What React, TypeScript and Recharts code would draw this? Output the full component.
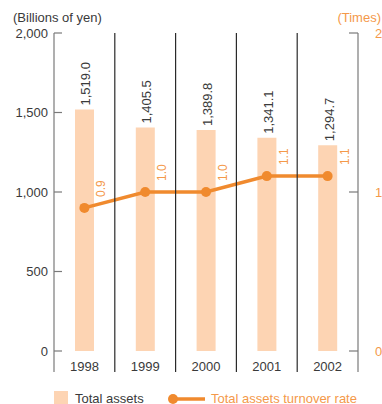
import React from 'react';
import {
  ComposedChart,
  Bar,
  Line,
  XAxis,
  YAxis,
  Legend,
  LabelList,
} from 'recharts';

// Fiscal years and the two series plotted against them
const YEARS = ['1998', '1999', '2000', '2001', '2002'];
const TOTAL_ASSETS = [1519.0, 1405.5, 1389.8, 1341.1, 1294.7]; // billions of yen
const TURNOVER_RATE = [0.9, 1.0, 1.0, 1.1, 1.1]; // times

const ASSET_TICKS = [0, 500, 1000, 1500, 2000];
const RATE_TICKS = [0, 1, 2];

const data = YEARS.map((year, i) => ({
  year,
  assets: TOTAL_ASSETS[i],
  rate: TURNOVER_RATE[i],
}));

// Layout
const W = 382;
const H = 404;
const LEFT_W = 54;
const RIGHT_W = 24;
const TOP = 33;
const X_AXIS_H = 53;
const LINE_BOTTOM = 372;
const PLOT_W = W - LEFT_W - RIGHT_W;
const HALF_BAND = PLOT_W / YEARS.length / 2;

// Colours
const BAR_FILL = '#FDD4B3';
const LINE_COLOR = '#F08A2E';
const ORANGE_TEXT = '#F4994A';
const TEXT = '#3a3a3a';
const AXIS_GRAY = '#7a7a7a';
const DIVIDER = '#2a2a2a';
const FONT = 13;

const fmtAssets = (v: number) =>
  v.toLocaleString('en-US', { minimumFractionDigits: 1, maximumFractionDigits: 1 });

const LeftTick = (props: any) => {
  const { x, y, payload } = props;
  return (
    <g>
      <line x1={x} x2={x + 8} y1={y} y2={y} stroke={AXIS_GRAY} strokeWidth={1.2} />
      <text x={x - 6} y={y + 4.5} textAnchor="end" fontSize={FONT} fill={TEXT}>
        {payload.value.toLocaleString('en-US')}
      </text>
    </g>
  );
};

const RightTick = (props: any) => {
  const { x, y, payload } = props;
  return (
    <g>
      <line x1={x - 9} x2={x} y1={y} y2={y} stroke={AXIS_GRAY} strokeWidth={1.2} />
      <text x={x + 17} y={y + 4.5} textAnchor="start" fontSize={FONT} fill={ORANGE_TEXT}>
        {payload.value}
      </text>
    </g>
  );
};

// Year label plus the vertical rules that frame each year's column
const YearTick = (props: any) => {
  const { x, y, payload, index } = props;
  const last = index === YEARS.length - 1;
  const left = x - HALF_BAND;
  const right = x + HALF_BAND;
  return (
    <g>
      <line
        x1={left}
        x2={left}
        y1={TOP}
        y2={LINE_BOTTOM}
        stroke={index === 0 ? AXIS_GRAY : DIVIDER}
        strokeWidth={1.2}
      />
      {last && (
        <line x1={right} x2={right} y1={TOP} y2={LINE_BOTTOM} stroke={AXIS_GRAY} strokeWidth={1.2} />
      )}
      <text x={x} y={y + 20} textAnchor="middle" fontSize={FONT} fill={TEXT}>
        {payload.value}
      </text>
    </g>
  );
};

const AssetLabel = (props: any) => {
  const { x, y, width, value } = props;
  const lx = x + width / 2 + 6;
  const ly = y - 4;
  return (
    <text
      x={lx}
      y={ly}
      transform={`rotate(-90 ${lx} ${ly})`}
      textAnchor="start"
      fontSize={FONT}
      fill={TEXT}
    >
      {fmtAssets(value)}
    </text>
  );
};

const RateLabel = (props: any) => {
  const { x, y, value } = props;
  const lx = x + 21;
  const ly = y - 11;
  return (
    <text
      x={lx}
      y={ly}
      transform={`rotate(-90 ${lx} ${ly})`}
      textAnchor="start"
      fontSize={12}
      fill={ORANGE_TEXT}
    >
      {value.toFixed(1)}
    </text>
  );
};

const renderLegend = (props: any) => {
  const { payload = [] } = props;
  const bar = payload.find((p: any) => p.dataKey === 'assets');
  const line = payload.find((p: any) => p.dataKey === 'rate');
  return (
    <svg width={W} height={18} style={{ display: 'block', overflow: 'visible' }}>
      {bar && (
        <g>
          <rect x={54} y={5} width={14} height={14} fill={bar.color} />
          <text x={75} y={16.5} fontSize={FONT} fill={TEXT}>
            {bar.value}
          </text>
        </g>
      )}
      {line && (
        <g>
          <line x1={173} x2={205} y1={13} y2={13} stroke={line.color} strokeWidth={3.5} />
          <circle cx={173} cy={13} r={5} fill={line.color} />
          <text x={211} y={16.5} fontSize={FONT} fill={ORANGE_TEXT}>
            {line.value}
          </text>
        </g>
      )}
    </svg>
  );
};

export default function App() {
  return (
    <div
      style={{
        position: 'absolute',
        left: 0,
        top: 0,
        width: W,
        height: H,
        overflow: 'hidden',
        background: '#fff',
        fontFamily: '"Liberation Sans", Arial, Helvetica, sans-serif',
      }}
    >
      <ComposedChart
        width={W}
        height={H}
        data={data}
        margin={{ top: TOP, right: 0, bottom: 0, left: 0 }}
        barCategoryGap={0}
      >
        <XAxis
          dataKey="year"
          height={X_AXIS_H}
          axisLine={false}
          tickLine={false}
          tickSize={0}
          tickMargin={0}
          interval={0}
          tick={<YearTick />}
        />
        <YAxis
          yAxisId="left"
          width={LEFT_W}
          domain={[0, 2000]}
          ticks={ASSET_TICKS}
          axisLine={false}
          tickLine={false}
          tickSize={0}
          tickMargin={0}
          interval={0}
          tick={<LeftTick />}
          label={{
            content: (p: any) => (
              <text x={p.viewBox.x + 13} y={p.viewBox.y - 11} fontSize={FONT} fill={TEXT}>
                (Billions of yen)
              </text>
            ),
          }}
        />
        <YAxis
          yAxisId="right"
          orientation="right"
          width={RIGHT_W}
          domain={[0, 2]}
          ticks={RATE_TICKS}
          axisLine={false}
          tickLine={false}
          tickSize={0}
          tickMargin={0}
          interval={0}
          tick={<RightTick />}
          label={{
            content: (p: any) => (
              <text
                x={p.viewBox.x + p.viewBox.width - 1}
                y={p.viewBox.y - 11}
                textAnchor="end"
                fontSize={FONT}
                fill={ORANGE_TEXT}
              >
                (Times)
              </text>
            ),
          }}
        />
        <Bar
          yAxisId="left"
          dataKey="assets"
          name="Total assets"
          fill={BAR_FILL}
          barSize={19}
          legendType="square"
          isAnimationActive={false}
        >
          <LabelList dataKey="assets" content={<AssetLabel />} />
        </Bar>
        <Line
          yAxisId="right"
          dataKey="rate"
          name="Total assets turnover rate"
          stroke={LINE_COLOR}
          strokeWidth={3.5}
          dot={{ r: 5, fill: LINE_COLOR, stroke: LINE_COLOR, strokeWidth: 0 }}
          activeDot={false}
          legendType="line"
          isAnimationActive={false}
        >
          <LabelList dataKey="rate" content={<RateLabel />} />
        </Line>
        <Legend
          verticalAlign="middle"
          align="center"
          layout="horizontal"
          wrapperStyle={{ top: 386, left: 0, width: W, height: 18 }}
          content={renderLegend}
        />
      </ComposedChart>
    </div>
  );
}
